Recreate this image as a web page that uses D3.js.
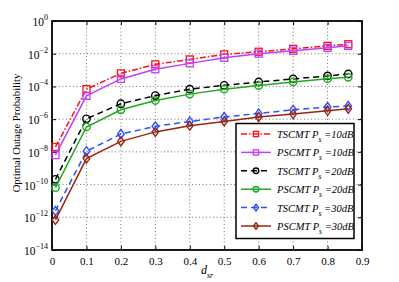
<!DOCTYPE html>
<meta charset="utf-8">
<style>
	body { margin:0; background:#fff; }
</style>
<script src="https://d3js.org/d3.v7.min.js"></script>
<body>
<div id="chart"></div>
<script>
	var dsr = [0.01, 0.1, 0.2, 0.3, 0.4, 0.5, 0.6, 0.7, 0.8, 0.86];
	// log10 of outage probability
	var tscmt10 = [-7.7, -4.17, -3.2, -2.65, -2.35, -2.04, -1.88, -1.70, -1.52, -1.42];
	var pscmt10 = [-8.2, -4.58, -3.54, -2.95, -2.59, -2.25, -2.0, -1.82, -1.64, -1.52];
	var tscmt20 = [-9.68, -5.98, -5.06, -4.56, -4.17, -3.93, -3.73, -3.54, -3.36, -3.24];
	var pscmt20 = [-10.19, -6.48, -5.43, -4.86, -4.47, -4.17, -3.95, -3.73, -3.53, -3.44];
	var tscmt30 = [-11.61, -7.96, -6.91, -6.44, -6.14, -5.87, -5.65, -5.43, -5.26, -5.19];
	var pscmt30 = [-12.16, -8.41, -7.36, -6.78, -6.4, -6.14, -5.87, -5.69, -5.49, -5.37];
	var xTicks = [0, 0.1, 0.2, 0.3, 0.4, 0.5, 0.6, 0.7, 0.8, 0.9];
	var yTicks = [0, -2, -4, -6, -8, -10, -12, -14];

	var series = [
		{name:"TSCMT", p:"10dB", vals:tscmt10, color:"#ff1010", dash:"6,2,1.5,2", mark:"square"},
		{name:"PSCMT", p:"10dB", vals:pscmt10, color:"#bf3fff", dash:null, mark:"square"},
		{name:"TSCMT", p:"20dB", vals:tscmt20, color:"#000000", dash:"6,4", mark:"circle"},
		{name:"PSCMT", p:"20dB", vals:pscmt20, color:"#1faa1f", dash:null, mark:"circle"},
		{name:"TSCMT", p:"30dB", vals:tscmt30, color:"#2f4fff", dash:"6,4", mark:"diamond"},
		{name:"PSCMT", p:"30dB", vals:pscmt30, color:"#9a2412", dash:null, mark:"diamond"}
	];

	var width = 399, height = 282;
	var L = 52, R = 362, T = 21, B = 250;
	var serif = "Liberation Serif";

	var svg = d3.select("#chart").append("svg")
		.attr("width", width)
		.attr("height", height);

	var x = d3.scaleLinear().domain([0, 0.9]).range([L, R]);
	var y = d3.scaleLinear().domain([-14, 0]).range([B, T]);

	// grid
	svg.append("g").selectAll("line").data(xTicks.slice(1, -1)).enter().append("line")
		.attr("x1", function(d) {return x(d)}).attr("x2", function(d) {return x(d)})
		.attr("y1", T).attr("y2", B)
		.attr("stroke", "#555").attr("stroke-width", 0.8).attr("stroke-dasharray", "1,2.5");
	svg.append("g").selectAll("line").data(yTicks.slice(1, -1)).enter().append("line")
		.attr("y1", function(d) {return y(d)}).attr("y2", function(d) {return y(d)})
		.attr("x1", L).attr("x2", R)
		.attr("stroke", "#555").attr("stroke-width", 0.8).attr("stroke-dasharray", "1,2.5");

	// axes (ticks inward)
	var xAxis = svg.append("g").attr("transform", "translate(0," + B + ")")
		.call(d3.axisBottom(x).tickValues(xTicks).tickSize(-4).tickPadding(9).tickFormat(function(d) {return d === 0 ? "0" : d3.format(".1f")(d)}));
	svg.append("g").attr("transform", "translate(0," + T + ")")
		.call(d3.axisTop(x).tickValues(xTicks).tickSize(-4).tickFormat(""));
	svg.append("g").attr("transform", "translate(" + L + ",0)")
		.call(d3.axisLeft(y).tickValues(yTicks).tickSize(-4).tickFormat(""));
	svg.append("g").attr("transform", "translate(" + R + ",0)")
		.call(d3.axisRight(y).tickValues(yTicks).tickSize(-4).tickFormat(""));
	svg.selectAll(".domain").remove();
	svg.selectAll(".tick line").attr("stroke", "#000");
	xAxis.attr("font-family", serif);
	xAxis.selectAll("text").attr("font-size", 11).attr("fill", "#000").attr("dy", "0.5em");

	// y tick labels with superscripts
	yTicks.forEach(function(d) {
		var t = svg.append("text")
			.attr("x", L - 4).attr("y", y(d) + 5)
			.attr("font-family", serif)
			.attr("text-anchor", "end").attr("font-size", 11.5);
		t.append("tspan").text("10");
		t.append("tspan").attr("dy", -6).attr("font-size", 8).text(d === 0 ? "0" : "\u2212" + (-d));
	});

	svg.append("rect")
		.attr("x", L).attr("y", T).attr("width", R - L).attr("height", B - T)
		.attr("fill", "none").attr("stroke", "#000").attr("stroke-width", 1.8);

	var line = d3.line()
		.x(function(d, i) {return x(dsr[i])})
		.y(function(d) {return y(d)});

	function marker(g, type, cx, cy, color, k) {
		if (type === "square") {
			g.append("rect").attr("x", cx - 3.5 * k).attr("y", cy - 3.5 * k).attr("width", 7 * k).attr("height", 7 * k)
				.attr("fill", "none").attr("stroke", color).attr("stroke-width", 1.3);
		} else if (type === "circle") {
			g.append("circle").attr("cx", cx).attr("cy", cy).attr("r", 3.7 * k)
				.attr("fill", "none").attr("stroke", color).attr("stroke-width", 1.4);
		} else {
			g.append("path").attr("d", "M" + cx + "," + (cy - 4.5 * k) + "L" + (cx + 3.3 * k) + "," + cy + "L" + cx + "," + (cy + 4.5 * k) + "L" + (cx - 3.3 * k) + "," + cy + "Z")
				.attr("fill", "none").attr("stroke", color).attr("stroke-width", 1.4);
		}
	}

	series.forEach(function(s) {
		var g = svg.append("g");
		g.append("path").datum(s.vals).attr("d", line)
			.attr("fill", "none").attr("stroke", s.color).attr("stroke-width", 1.5)
			.attr("stroke-dasharray", s.dash);
		s.vals.forEach(function(v, i) {
			marker(g, s.mark, x(dsr[i]), y(v), s.color, 1);
		});
	});

	// legend
	var lg = svg.append("g");
	lg.append("rect").attr("x", 236).attr("y", 123.5).attr("width", 118).attr("height", 115)
		.attr("fill", "#fff").attr("stroke", "#000").attr("stroke-width", 1.5);
	series.forEach(function(s, i) {
		var yy = 134 + i * 18.4;
		lg.append("line").attr("x1", 241).attr("x2", 271).attr("y1", yy).attr("y2", yy)
			.attr("stroke", s.color).attr("stroke-width", 1.5).attr("stroke-dasharray", s.dash);
		marker(lg, s.mark, 256, yy, s.color, 0.75);
		var t = lg.append("text").attr("x", 277).attr("y", yy + 4)
			.attr("font-family", serif)
			.attr("font-size", 10.5).attr("font-style", "italic");
		t.append("tspan").text(s.name + " P");
		t.append("tspan").attr("dy", 4).attr("font-size", 7.5).text("s");
		t.append("tspan").attr("dy", -4).text(" =" + s.p);
	});

	// axis titles
	svg.append("text")
		.attr("transform", "translate(20,133) rotate(-90)")
		.attr("font-family", serif)
		.attr("text-anchor", "middle").attr("font-size", 10.7)
		.text("Optimal Outage Probability");
	var xl = svg.append("text").attr("x", 201).attr("y", 274)
		.attr("font-family", serif)
		.attr("font-size", 12).attr("font-style", "italic");
	xl.append("tspan").text("d");
	xl.append("tspan").attr("dy", 4).attr("font-size", 8).text("sr");
</script>
</body>
